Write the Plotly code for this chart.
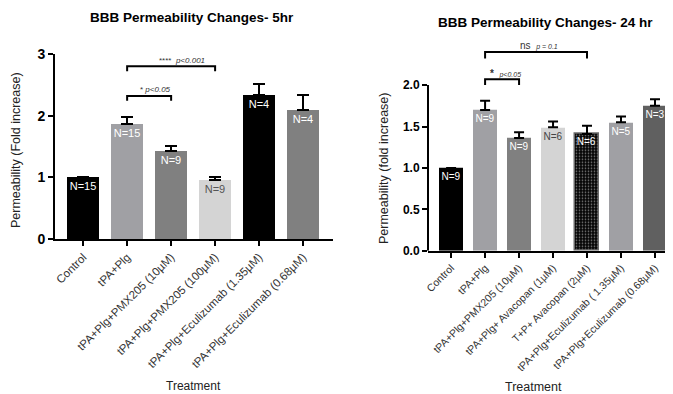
import plotly.graph_objects as go

# ---- Data: 5 hr ----
cat5 = ["Control", "tPA+Plg", "tPA+Plg+PMX205 (10µM)", "tPA+Plg+PMX205 (100µM)",
        "tPA+Plg+Eculizumab (1.35µM)", "tPA+Plg+Eculizumab (0.68µM)"]
val5 = [1.0, 1.87, 1.43, 0.96, 2.33, 2.10]
err5 = [0.0, 0.11, 0.08, 0.05, 0.19, 0.23]
n5 = ["N=15", "N=15", "N=9", "N=9", "N=4", "N=4"]
col5 = ["#000000", "#a0a0a4", "#808080", "#d4d4d4", "#000000", "#808080"]
txtcol5 = ["white", "white", "white", "#555555", "white", "white"]

# ---- Data: 24 hr ----
cat24 = ["Control", "tPA+Plg", "tPA+Plg+PMX205 (10µM)", "tPA+Plg+ Avacopan (1µM)",
         "T+P+ Avacopan (2µM)", "tPA+Plg+Eculizumab ( 1.35µM)", "tPA+Plg+Eculizumab (0.68µM)"]
val24 = [1.0, 1.70, 1.36, 1.49, 1.41, 1.55, 1.75]
err24 = [0.0, 0.11, 0.07, 0.07, 0.10, 0.07, 0.08]
n24 = ["N=9", "N=9", "N=9", "N=6", "N=6", "N=5", "N=3"]
col24 = ["#000000", "#a0a0a4", "#808080", "#d4d4d4", "#050505", "#a0a0a4", "#606060"]
txtcol24 = ["white", "white", "white", "#444444", "white", "white", "white"]

# page body has an 8px margin: work in screen pixels and convert
OFF = 8
W, H = 673 - OFF, 394 - OFF
def px(x): return (x - OFF) / W
def py(y): return 1 - (y - OFF) / H

font = "Liberation Sans, Arial, sans-serif"
fig = go.Figure()

fig.add_trace(go.Bar(
    x=list(range(len(cat5))), y=val5, width=0.73,
    marker=dict(color=col5, line=dict(width=0)),
    error_y=dict(type="data", symmetric=False, array=err5, arrayminus=[0]*len(err5),
                 color="black", thickness=2, width=6),
    text=n5, textposition="inside", insidetextanchor="end", constraintext="none",
    textangle=0,
    textfont=dict(color=txtcol5, size=11, family=font),
    xaxis="x", yaxis="y", showlegend=False))

fig.add_trace(go.Bar(
    x=list(range(len(cat24))), y=val24, width=0.72,
    marker=dict(color=col24,
                line=dict(width=[0, 0, 0, 0, 1.5, 0, 0], color="#6a6a6a"),
                pattern=dict(shape=["", "", "", "", ".", "", ""], fgcolor="#3a3a3a",
                             bgcolor="#050505", size=3, solidity=0.25)),
    error_y=dict(type="data", symmetric=False, array=err24, arrayminus=[0]*len(err24),
                 color="black", thickness=2, width=5),
    text=n24, textposition="inside", insidetextanchor="end", constraintext="none",
    textangle=0,
    textfont=dict(color=txtcol24, size=10, family=font),
    xaxis="x2", yaxis="y2", showlegend=False))

axline = dict(showline=True, linecolor="black", linewidth=2, ticks="outside",
              tickwidth=2, ticklen=5, tickcolor="black", showgrid=False, zeroline=False,
              automargin=False)

fig.update_layout(
    width=W, height=H, margin=dict(l=0, r=0, t=0, b=0, autoexpand=False),
    plot_bgcolor="white", paper_bgcolor="white", bargap=0,
    font=dict(family=font, color="#222222"),
    xaxis=dict(domain=[px(55), px(333)], range=[-0.64, 5.68], anchor="y",
               tickvals=list(range(len(cat5))), ticktext=cat5, tickangle=-45,
               tickfont=dict(size=11.5, color="#333333"), **axline),
    yaxis=dict(domain=[py(239), py(54)], range=[0, 3], anchor="x",
               tickvals=[0, 1, 2, 3], ticktext=["0", "1", "2", "3"],
               tickfont=dict(size=14, weight="bold", color="black"), **axline),
    xaxis2=dict(domain=[px(428), 1.0], range=[-0.68, 6.53], anchor="y2",
                tickvals=list(range(len(cat24))), ticktext=cat24, tickangle=-45,
                tickfont=dict(size=10.5, color="#333333"), **axline),
    yaxis2=dict(domain=[py(250.7), py(43.7)], range=[0, 2.5], anchor="x2",
                showline=False, ticks="outside", tickwidth=2, ticklen=5, tickcolor="black",
                showgrid=False, zeroline=False, automargin=False,
                tickvals=[0, 0.5, 1.0, 1.5, 2.0], ticktext=["0.0", "0.5", "1.0", "1.5", "2.0"],
                tickfont=dict(size=12, weight="bold", color="black")),
)

# right y-axis line only up to 2.0
fig.add_shape(type="line", xref="x2 domain", yref="y2", x0=0, x1=0, y0=0, y1=2.0,
              line=dict(color="black", width=2))

def bracket(xr, yr, x0, x1, y, ytick):
    fig.add_shape(type="path", xref=xr, yref=yr,
                  path=f"M {x0},{ytick} L {x0},{y} L {x1},{y} L {x1},{ytick}",
                  line=dict(color="black", width=2))

bracket("x", "y", 1, 2, 2.32, 2.24)
bracket("x", "y", 1, 3, 2.80, 2.72)
bracket("x2", "y2", 1, 2, 2.07, 2.00)
bracket("x2", "y2", 1, 4, 2.40, 2.32)

def A(**kw):
    d = dict(showarrow=False, xanchor="center", yanchor="middle")
    d.update(kw)
    return d

ann = []
ann.append(A(x=1.65, y=2.42, xref="x", yref="y",
             text="* <i>p&lt;0.05</i>", font=dict(size=8, color="#333333")))
ann.append(A(x=2.25, y=2.90, xref="x", yref="y",
             text="****  <i>p&lt;0.001</i>", font=dict(size=8, color="#333333")))
ann.append(A(x=1.6, y=2.14, xref="x2", yref="y2",
             text="<b>*</b>  <i><span style='font-size:7px'>p&lt;0.05</span></i>",
             font=dict(size=10, color="#333333")))
ann.append(A(x=2.6, y=2.48, xref="x2", yref="y2",
             text="ns  <i><span style='font-size:7px'>p = 0.1</span></i>",
             font=dict(size=10, color="#333333")))
# titles
ann.append(A(x=px(192), y=py(18), xref="paper", yref="paper",
             text="<b>BBB Permeability Changes- 5hr</b>", font=dict(size=13.5, color="black")))
ann.append(A(x=px(545), y=py(22), xref="paper", yref="paper",
             text="<b>BBB Permeability Changes- 24 hr</b>", font=dict(size=13.5, color="black")))
# axis titles
ann.append(A(x=px(193), y=py(386), xref="paper", yref="paper",
             text="Treatment", font=dict(size=12, color="#222222")))
ann.append(A(x=px(533), y=py(387), xref="paper", yref="paper",
             text="Treatment", font=dict(size=12.5, color="#222222")))
ann.append(A(x=px(16), y=py(150), xref="paper", yref="paper",
             textangle=-90, text="Permeability (Fold increase)",
             font=dict(size=12.5, color="#222222")))
ann.append(A(x=px(384), y=py(169), xref="paper", yref="paper",
             textangle=-90, text="Permeability (fold increase)",
             font=dict(size=12.5, color="#222222")))
fig.update_layout(annotations=ann)

fig.write_html("out.html")
